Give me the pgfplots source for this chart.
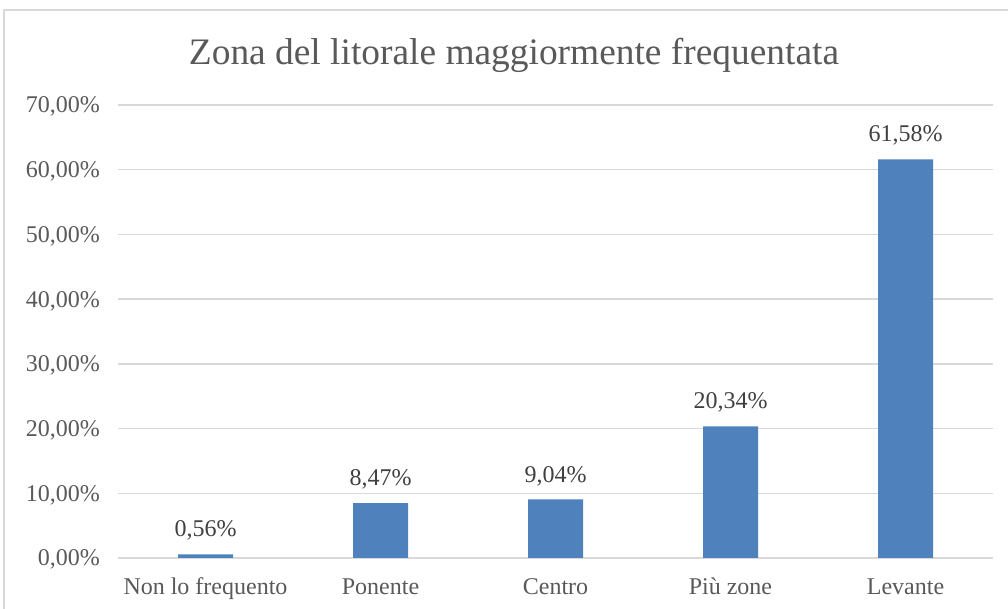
\documentclass[border=0pt]{standalone}
\usepackage{pgfplots}
\pgfplotsset{compat=1.18}
\usepackage{fontspec}
\setmainfont{Liberation Serif}
\definecolor{barblue}{HTML}{4F81BD}
\definecolor{gridgray}{HTML}{D9D9D9}
\definecolor{txtgray}{HTML}{595959}
\definecolor{lblgray}{HTML}{404040}
\begin{document}
\begin{tikzpicture}
\useasboundingbox (0pt,0pt) rectangle (1008pt,609pt);
\draw[gridgray, line width=1.3pt] (4pt,-2pt) -- (4pt,599pt) -- (1010pt,599pt);
\node[anchor=base, text=txtgray, font=\fontsize{37.4}{44}\selectfont, inner sep=0pt] at (514pt,544pt) {Zona del litorale maggiormente frequentata};
\begin{axis}[
  at={(118pt,51pt)}, anchor=south west,
  scale only axis, width=875pt, height=453pt,
  xmin=-0.5, xmax=4.5, ymin=0, ymax=70,
  ytick={0,10,20,30,40,50,60,70},
  xtick={0,1,2,3,4},
  xticklabels={Non lo frequento, Ponente, Centro, Più zone, Levante},
  axis line style={draw=none},
  major tick style={draw=none},
  ymajorgrids, grid style={gridgray, line width=1.3pt},
  tick label style={text=txtgray, font=\fontsize{24}{28}\selectfont, inner sep=0pt},
  xticklabel style={anchor=base, yshift=-37pt},
  yticklabel style={anchor=base east, xshift=-18pt, yshift=-8pt},
  yticklabel={\pgfmathprintnumber[assume math mode=true,fixed,fixed zerofill,precision=2,use comma]{\tick}\%},
  clip=false,
]
\addplot[ybar, bar width=55pt, fill=barblue, draw=none,
  nodes near coords={\pgfmathprintnumber[assume math mode=true,fixed,fixed zerofill,precision=2,use comma]{\pgfplotspointmeta}\%},
  every node near coord/.append style={text=lblgray, font=\fontsize{24}{28}\selectfont, inner sep=0pt, yshift=13.6pt},
] coordinates {(0,0.56) (1,8.47) (2,9.04) (3,20.34) (4,61.58)};
\end{axis}
\end{tikzpicture}
\end{document}
